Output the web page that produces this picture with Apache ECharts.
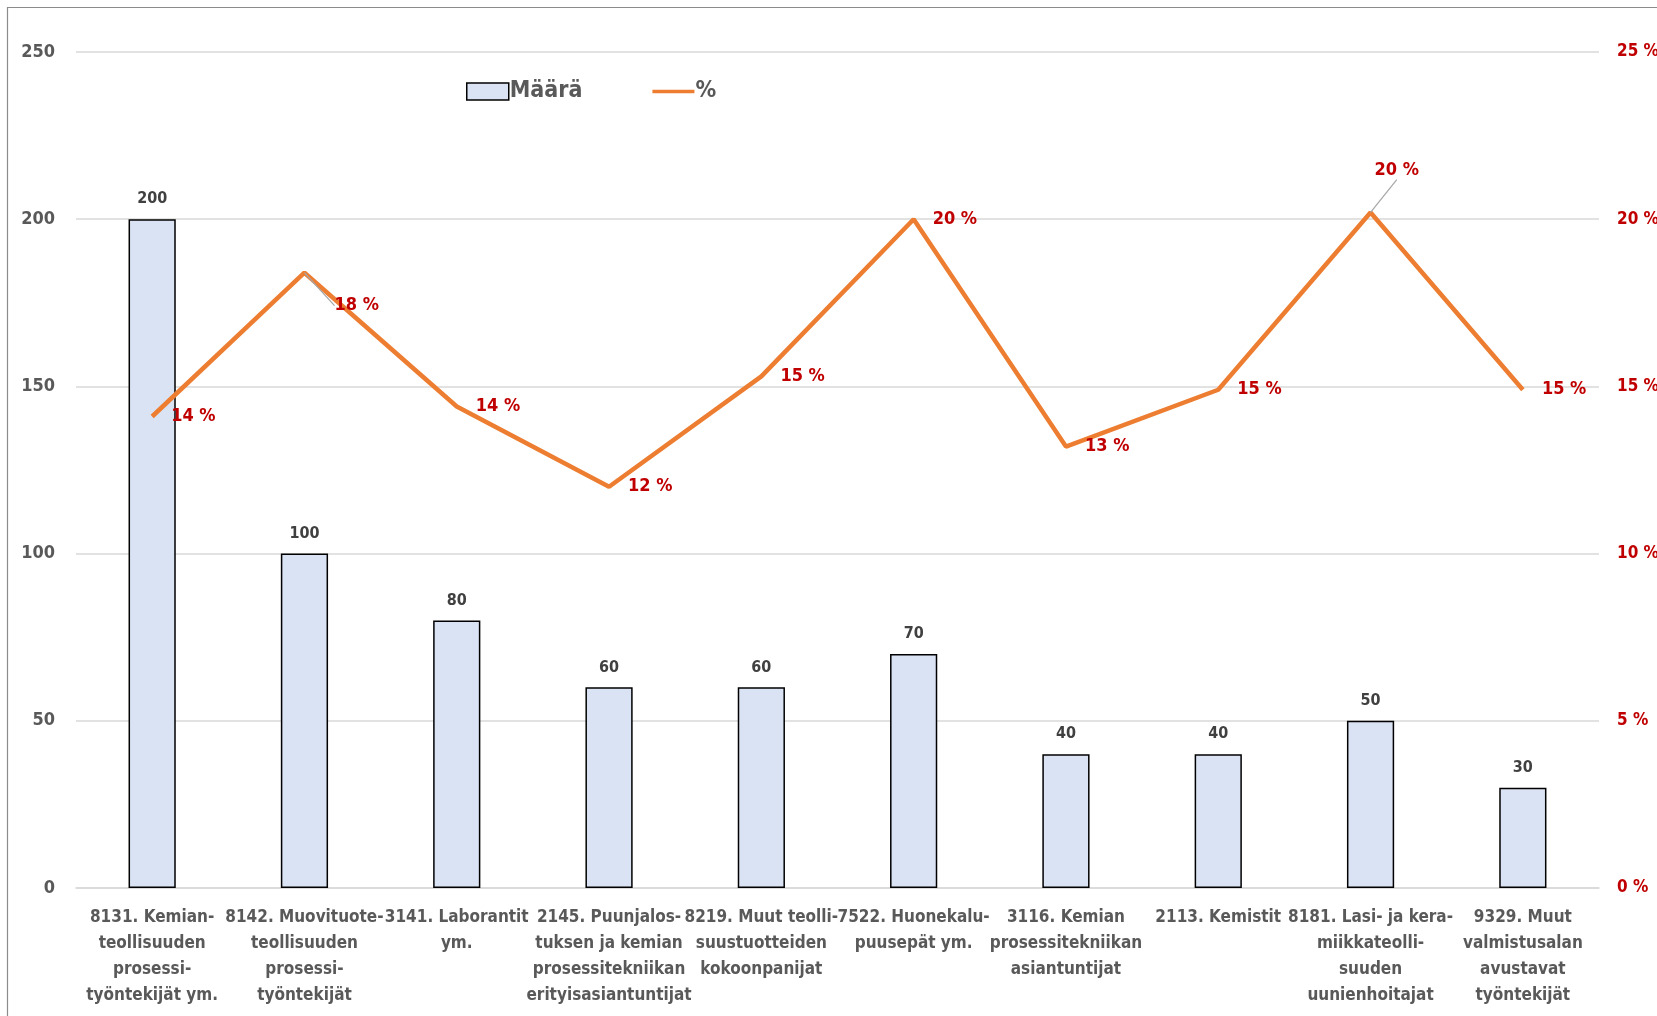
<!DOCTYPE html>
<html><head><meta charset="utf-8">
<script src="https://cdn.jsdelivr.net/npm/echarts@6/dist/echarts.min.js"></script>
<style>html,body{margin:0;padding:0;background:#fff}#c{width:1657px;height:1016px}</style>
</head><body><div id="c"></div>
<script>
const categories = [
  "8131. Kemian-\nteollisuuden\nprosessi-\ntyöntekijät ym.",
  "8142. Muovituote-\nteollisuuden\nprosessi-\ntyöntekijät",
  "3141. Laborantit\nym.",
  "2145. Puunjalos-\ntuksen ja kemian\nprosessitekniikan\nerityisasiantuntijat",
  "8219. Muut teolli-\nsuustuotteiden\nkokoonpanijat",
  "7522. Huonekalu-\npuusepät ym.",
  "3116. Kemian\nprosessitekniikan\nasiantuntijat",
  "2113. Kemistit",
  "8181. Lasi- ja kera-\nmiikkateolli-\nsuuden\nuunienhoitajat",
  "9329. Muut\nvalmistusalan\navustavat\ntyöntekijät"
];
const maara = [200, 100, 80, 60, 60, 70, 40, 40, 50, 30];
const pct = [14.1, 18.4, 14.4, 12.0, 15.3, 20.0, 13.2, 14.9, 20.2, 14.9];
const leftTicks = [0, 50, 100, 150, 200, 250];
const rightTicks = [0, 5, 10, 15, 20, 25];
const leaderIdx = [1, 8];

const FONT = "'DejaVu Sans Condensed','Liberation Sans Narrow',sans-serif";
const chart = echarts.init(document.getElementById('c'), null, {renderer: 'canvas'});
chart.setOption({
  animation: false,
  backgroundColor: '#fff',
  textStyle: {fontFamily: FONT},
  graphic: [{type: 'rect', shape: {x: 7.5, y: 7.5, width: 1700, height: 1100}, style: {fill: 'none', stroke: '#8c8c8c', lineWidth: 1.2}, silent: true, z: -1}],
  legend: {
    left: 461, top: 75,
    itemGap: 70, itemWidth: 42, itemHeight: 17,
    textStyle: {fontFamily: FONT, fontSize: 23, fontWeight: 'bold', color: '#595959', padding: [0,0,0,-4]},
    data: [
      {name: 'Määrä', icon: 'rect', itemStyle: {color: '#DAE3F3', borderColor: '#000', borderWidth: 1.5}},
      {name: '%', icon: 'path://M0,8 L45,8 L45,12 L0,12 Z'}
    ]
  },
  grid: {left: 76, right: 58, top: 52, bottom: 128, outerBoundsMode: 'none', containLabel: false},
  xAxis: {
    type: 'category', data: categories,
    axisTick: {show: false},
    axisLine: {show: true, lineStyle: {color: '#D9D9D9', width: 1.5}},
    axisLabel: {interval: 0, margin: 17, fontFamily: FONT, fontSize: 17, fontWeight: 'bold', color: '#595959', lineHeight: 26}
  },
  yAxis: [
    {type: 'value', min: 0, max: 250, interval: 50,
      axisLine: {show: false}, axisTick: {show: false},
      splitLine: {lineStyle: {color: '#D9D9D9', width: 1.5}},
      axisLabel: {margin: 21, fontFamily: FONT, fontSize: 18, fontWeight: 'bold', color: '#595959',
        formatter: v => leftTicks.includes(v) ? String(v) : ''}},
    {type: 'value', min: 0, max: 25, interval: 5,
      axisLine: {show: false}, axisTick: {show: false}, splitLine: {show: false},
      axisLabel: {margin: 18, fontFamily: FONT, fontSize: 17, fontWeight: 'bold', color: '#C00000',
        formatter: v => rightTicks.includes(v) ? v + ' %' : ''}}
  ],
  series: [
    {name: 'Määrä', type: 'bar', data: maara, barWidth: '31%', yAxisIndex: 0,
      itemStyle: {color: '#DAE3F3', borderColor: '#000', borderWidth: 1.5},
      label: {show: true, position: 'top', distance: 12, fontFamily: FONT, fontSize: 16, fontWeight: 'bold', color: '#404040'}},
    {name: '%', type: 'line', yAxisIndex: 1, symbol: 'circle', symbolSize: 0.1, showSymbol: true,
      data: pct.map((v, i) => ({value: v, labelLine: {show: leaderIdx.includes(i)}})),
      lineStyle: {color: '#ED7D31', width: 4.5}, itemStyle: {color: '#ED7D31'},
      label: {show: true, position: 'right', distance: 19, fontFamily: FONT, fontSize: 18, fontWeight: 'bold', color: '#C00000',
        formatter: p => Math.round(p.value) + ' %'},
      labelLine: {show: false, lineStyle: {color: '#A6A6A6', width: 1.2}},
      labelLayout: function (p) {
        if (p.dataIndex === 1) return {dx: 11, dy: 33};
        if (p.dataIndex === 8) return {dx: -15, dy: -42};
        return {};
      }
    }
  ]
});
</script></body></html>
